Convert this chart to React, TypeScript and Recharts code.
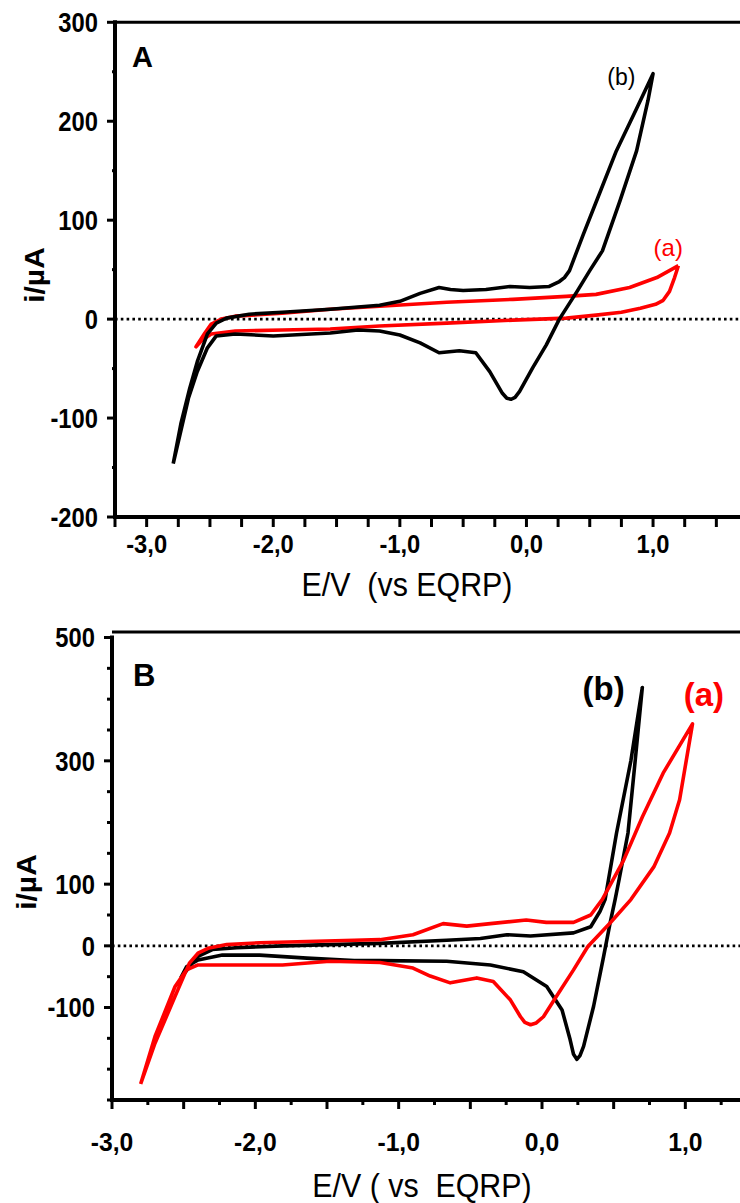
import React from 'react'
import { LineChart, Line, XAxis, YAxis, ReferenceLine, ReferenceDot } from 'recharts'

const FONT = "'Liberation Sans', Arial, sans-serif"

// Panel A: potential E (V vs EQRP) and current i (µA), in scan order
const A_RED_E = [1.2, 1.03, 0.815, 0.55, 0.315, -0.107, -0.63, -1.16, -1.55, -1.93, -2.3, -2.41, -2.49, -2.54, -2.61,
  -2.56, -2.49, -2.3, -1.93, -1.55, -1.16, -0.63, -0.107, 0.315, 0.55, 0.75, 0.9, 1.02, 1.08, 1.13, 1.17, 1.2]
const A_RED_I = [54, 42, 32, 25, 23, 20, 17, 13, 10, 6, 3, 0, -5, -14, -28,
  -21, -15, -12, -11, -10, -7, -4, -1, 1, 4, 7, 11, 15, 19, 28, 42, 54]

const A_BLACK_E = [-2.79, -2.73, -2.66, -2.6, -2.52, -2.45, -2.37, -2.19, -1.93, -1.55, -1.16, -1.0, -0.84, -0.69, -0.6,
  -0.5, -0.32, -0.13, 0.025, 0.18, 0.26, 0.3, 0.34, 0.45, 0.58, 0.71, 0.86, 1.0,
  0.96, 0.87, 0.74, 0.6, 0.5, 0.4, 0.26, 0.157, 0.05, -0.054, -0.09, -0.12, -0.155, -0.19, -0.29, -0.4, -0.53, -0.69,
  -0.84, -1.0, -1.16, -1.33, -1.55, -2.0, -2.3, -2.45, -2.52, -2.6, -2.67, -2.79]
const A_BLACK_I = [-146, -106, -70, -43, -15, -4, 1, 5, 7, 10, 14, 18, 26, 32, 30,
  29, 30, 33, 32, 33, 38, 42, 49, 86, 128, 170, 210, 248,
  221, 170, 120, 69, 49, 28, 0, -26, -49, -73, -79, -81, -80, -75, -53, -34, -32, -34,
  -24, -16, -12, -11, -14, -17, -15, -17, -29, -53, -80, -146]

// Panel B
const B_RED_E = [-2.8, -2.7, -2.56, -2.46, -2.4, -2.33, -2.2, -1.97, -1.64, -1.31, -1.13, -0.9, -0.69, -0.525, -0.36,
  -0.11, 0.03, 0.22, 0.34, 0.42, 0.57, 0.7, 0.845, 1.05,
  0.96, 0.89, 0.78, 0.62, 0.475, 0.32, 0.22, 0.1, 0.01, -0.04, -0.08, -0.12, -0.15, -0.22, -0.34, -0.455, -0.64,
  -0.78, -0.9, -1.13, -1.48, -1.81, -2.13, -2.4, -2.48, -2.56, -2.7, -2.8]
const B_RED_I = [-224, -158, -82, -28, -12, -4, 2, 5, 7, 9, 10, 18, 36, 32, 36,
  42, 38, 38, 50, 75, 139, 209, 280, 360,
  237, 183, 128, 75, 37, -1, -39, -82, -115, -125, -128, -124, -115, -88, -58, -52, -60,
  -49, -36, -27, -25, -31, -31, -31, -39, -66, -147, -224]

const B_BLACK_E = [-2.52, -2.46, -2.4, -2.3, -2.13, -1.81, -1.48, -1.13, -0.665, -0.43, -0.245, -0.08, 0.22, 0.34, 0.405,
  0.44, 0.52, 0.62, 0.7,
  0.65, 0.6, 0.54, 0.51, 0.475, 0.43, 0.36, 0.29, 0.265, 0.243, 0.22, 0.196, 0.14, 0.033, -0.13, -0.36, -0.665,
  -1.13, -1.31, -1.64, -1.97, -2.23, -2.4, -2.48, -2.52]
const B_BLACK_I = [-52, -34, -17, -6, -3, 0, 2, 4, 9, 12, 18, 16, 21, 31, 56,
  75, 183, 300, 419,
  300, 183, 110, 75, 37, -17, -98, -163, -178, -184, -176, -152, -104, -66, -42, -31, -25,
  -24, -24, -20, -15, -15, -23, -34, -52]

// Axes
const A_X_DOMAIN = [-3.25, 1.75]
const A_X_TICKS = [-3.25, -3, -2.75, -2.5, -2.25, -2, -1.75, -1.5, -1.25, -1, -0.75, -0.5, -0.25, 0, 0.25, 0.5, 0.75, 1, 1.25, 1.5, 1.75]
const A_Y_DOMAIN = [-200, 300]
const A_Y_TICKS = [-200, -150, -100, -50, 0, 50, 100, 150, 200, 250, 300]
const A_Y_LABELS = [-200, -100, 0, 100, 200, 300]

const B_X_DOMAIN = [-3, 1.5]
const B_X_TICKS = [-3, -2.75, -2.5, -2.25, -2, -1.75, -1.5, -1.25, -1, -0.75, -0.5, -0.25, 0, 0.25, 0.5, 0.75, 1, 1.25, 1.5]
const B_X_LONG = [-3, -2.5, -2, -1.5, -1, -0.5, 0, 0.5, 1, 1.5]
const B_Y_DOMAIN = [-250, 500]
const B_Y_TICKS = [-250, -200, -150, -100, -50, 0, 50, 100, 150, 200, 250, 300, 350, 400, 450, 500]
const B_Y_LABELS = [-100, 0, 100, 300, 500]

const X_LABELS = [-3, -2, -1, 0, 1]

const toPoints = (es: number[], is: number[]) => es.map((e, k) => ({ e, i: is[k] }))
const fmt = (v: number) => v.toFixed(1).replace('.', ',')

function makeYTick(labels: number[], majorLen: number, minorLen: number, fontSize: number) {
  return (props: any) => {
    const { x, y, payload } = props
    const v = payload.value
    const major = labels.includes(v)
    const len = major ? majorLen : minorLen
    return (
      <g>
        <line x1={x - len} x2={x} y1={y} y2={y} stroke="#000" strokeWidth={3} />
        {major && (
          <text transform={`translate(${x - majorLen - 9},${y}) scale(0.88,1)`} dy="0.36em" textAnchor="end"
            fontSize={fontSize} fontWeight="bold" fontFamily={FONT} fill="#000">{v}</text>
        )}
      </g>
    )
  }
}

function makeXTick(longTicks: number[] | null, longLen: number, shortLen: number, labelDy: number, fontSize: number) {
  return (props: any) => {
    const { x, y, payload } = props
    const v = payload.value
    const len = !longTicks || longTicks.includes(v) ? longLen : shortLen
    return (
      <g>
        <line x1={x} x2={x} y1={y} y2={y + len} stroke="#000" strokeWidth={3} />
        {X_LABELS.includes(v) && (
          <text transform={`translate(${x},${y + labelDy}) scale(0.95,1)`} dy="0.36em" textAnchor="middle"
            fontSize={fontSize} fontWeight="bold" fontFamily={FONT} fill="#000">{fmt(v)}</text>
        )}
      </g>
    )
  }
}

const tag = (text: string, color: string, size: number, weight: string) => ({
  value: text, position: 'center' as const, fill: color, fontSize: size, fontFamily: FONT, fontWeight: weight,
})

const abs = (left: number, top: number, extra: React.CSSProperties = {}): React.CSSProperties => ({
  position: 'absolute', left, top, fontFamily: FONT, color: '#000', lineHeight: 1, whiteSpace: 'pre', ...extra,
})

export default function App() {
  const axisLine = { stroke: '#000', strokeWidth: 4, strokeLinecap: 'square' as const }
  const curve = { strokeWidth: 3.6, strokeLinejoin: 'round' as const, dot: false, activeDot: false, type: 'linear' as const, isAnimationActive: false }
  return (
    <div style={{ position: 'absolute', left: 0, top: 0, width: 740, height: 1203, overflow: 'hidden', background: '#fff' }}>
      {/* Panel A */}
      <div style={{ position: 'absolute', left: 0, top: 0 }}>
        <LineChart width={748} height={562} margin={{ top: 22.3, right: 0, bottom: 0, left: 55 }}>
          <XAxis dataKey="e" type="number" domain={A_X_DOMAIN} ticks={A_X_TICKS} allowDataOverflow interval={0}
            height={45} axisLine={axisLine} tickLine={false} tickSize={0} tickMargin={0}
            tick={makeXTick(null, 10, 10, 27, 25)} />
          <YAxis type="number" domain={A_Y_DOMAIN} ticks={A_Y_TICKS} allowDataOverflow interval={0}
            width={60} axisLine={axisLine} tickLine={false} tickSize={0} tickMargin={0}
            tick={makeYTick(A_Y_LABELS, 8, 3, 27)} />
          <ReferenceLine y={300} stroke="#000" strokeWidth={3} />
          <ReferenceLine y={0} stroke="#000" strokeWidth={2.8} strokeDasharray="2.6 3.2" />
          <Line data={toPoints(A_RED_E, A_RED_I)} dataKey="i" stroke="#ff0000" {...curve} />
          <Line data={toPoints(A_BLACK_E, A_BLACK_I)} dataKey="i" stroke="#000" {...curve} />
          <ReferenceDot x={0.75} y={245} r={0} ifOverflow="visible" label={tag('(b)', '#000', 23, 'normal')} />
          <ReferenceDot x={1.12} y={72} r={0} ifOverflow="visible" label={tag('(a)', '#ff0000', 24, 'normal')} />
        </LineChart>
      </div>
      <div style={abs(132, 43, { fontSize: 29, fontWeight: 'bold' })}>A</div>
      <div style={abs(35, 275, { fontSize: 30, fontWeight: 'bold', transform: 'translate(-50%, -50%) rotate(-90deg) scale(1, 0.9)' })}>i/µA</div>
      <div style={abs(407, 584, { fontSize: 33, transform: 'translate(-50%, -50%) scale(0.92, 1)' })}>{'E/V  (vs EQRP)'}</div>

      {/* Panel B */}
      <div style={{ position: 'absolute', left: 0, top: 600 }}>
        <LineChart width={757} height={570} margin={{ top: 37.5, right: 0, bottom: 0, left: 52 }}>
          <XAxis dataKey="e" type="number" domain={B_X_DOMAIN} ticks={B_X_TICKS} allowDataOverflow interval={0}
            height={70} axisLine={axisLine} tickLine={false} tickSize={0} tickMargin={0}
            tick={makeXTick(B_X_LONG, 9, 5, 42, 26)} />
          <YAxis type="number" domain={B_Y_DOMAIN} ticks={B_Y_TICKS} allowDataOverflow interval={0}
            width={60} axisLine={axisLine} tickLine={false} tickSize={0} tickMargin={0}
            tick={makeYTick(B_Y_LABELS, 8, 5, 27)} />
          <ReferenceLine y={509} stroke="#000" strokeWidth={3} ifOverflow="visible" />
          <ReferenceLine y={0} stroke="#000" strokeWidth={2.8} strokeDasharray="2.6 3.2" />
          <Line data={toPoints(B_BLACK_E, B_BLACK_I)} dataKey="i" stroke="#000" {...curve} />
          <Line data={toPoints(B_RED_E, B_RED_I)} dataKey="i" stroke="#ff0000" {...curve} />
          <ReferenceDot x={0.43} y={417} r={0} ifOverflow="visible" label={tag('(b)', '#000', 33, 'bold')} />
          <ReferenceDot x={1.13} y={408} r={0} ifOverflow="visible" label={tag('(a)', '#ff0000', 33, 'bold')} />
        </LineChart>
      </div>
      <div style={abs(133, 660, { fontSize: 31, fontWeight: 'bold' })}>B</div>
      <div style={abs(27, 882, { fontSize: 30, fontWeight: 'bold', transform: 'translate(-50%, -50%) rotate(-90deg) scale(1, 0.9)' })}>i/µA</div>
      <div style={abs(422, 1185, { fontSize: 33, transform: 'translate(-50%, -50%) scale(0.92, 1)' })}>{'E/V ( vs  EQRP)'}</div>
    </div>
  )
}
